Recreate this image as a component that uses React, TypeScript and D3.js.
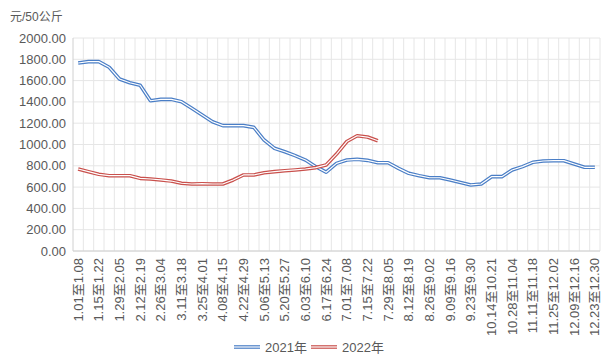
import React from "react";
import * as d3 from "d3";

const categories: string[] = [
  "1.01至1.08", "1.08至1.15", "1.15至1.22", "1.22至1.29", "1.29至2.05", "2.05至2.12",
  "2.12至2.19", "2.19至2.26", "2.26至3.04", "3.04至3.11", "3.11至3.18", "3.18至3.25",
  "3.25至4.01", "4.01至4.08", "4.08至4.15", "4.15至4.22", "4.22至4.29", "4.29至5.06",
  "5.06至5.13", "5.13至5.20", "5.20至5.27", "5.27至6.03", "6.03至6.10", "6.10至6.17",
  "6.17至6.24", "6.24至7.01", "7.01至7.08", "7.08至7.15", "7.15至7.22", "7.22至7.29",
  "7.29至8.05", "8.05至8.12", "8.12至8.19", "8.19至8.26", "8.26至9.02", "9.02至9.09",
  "9.09至9.16", "9.16至9.23", "9.23至9.30", "9.30至10.14", "10.14至10.21", "10.21至10.28",
  "10.28至11.04", "11.04至11.11", "11.11至11.18", "11.18至11.25", "11.25至12.02", "12.02至12.09",
  "12.09至12.16", "12.16至12.23", "12.23至12.30",
];

const series2021: number[] = [
  1765, 1778, 1778, 1725, 1615, 1580, 1556, 1411, 1424, 1424, 1402, 1340, 1278, 1214,
  1177, 1177, 1177, 1161, 1042, 964, 932, 895, 854, 792, 740, 823, 854, 861, 851, 829,
  829, 776, 729, 707, 688, 688, 667, 643, 620, 629, 698, 698, 761, 792, 833, 845, 848,
  848, 817, 786, 786,
];

const series2022: number[] = [
  770, 745, 720, 707, 707, 707, 682, 676, 667, 657, 636, 629, 632, 629, 629, 667, 714,
  714, 735, 745, 754, 761, 770, 783, 808, 910, 1028, 1082, 1070, 1035,
];

const yTicks: number[] = [0, 200, 400, 600, 800, 1000, 1200, 1400, 1600, 1800, 2000];
const seriesNames: string[] = ["2021年", "2022年"];
const seriesColors: string[] = ["#4A7EC6", "#C9504C"];

const FONT = "'Liberation Sans', 'Noto Sans CJK SC', sans-serif";

export default function App() {
  const W = 615, H = 360;
  const left = 73, right = 600, top = 38, bottom = 251;
  const x = d3.scaleBand<number>().domain(categories.map((_, i) => i)).range([left, right]);
  const y = d3.scaleLinear().domain([0, 2000]).range([bottom, top]);
  const cx = (i: number) => (x(i) as number) + x.bandwidth() / 2;
  const line = d3.line<number>().x((_, i) => cx(i)).y((d) => y(d));
  const allSeries = [series2021, series2022];

  return (
    <svg width={W} height={H} style={{ position: "absolute", left: 0, top: 0, background: "#fff" }} fontFamily={FONT}>
      <text x={10} y={21} fontSize={12} fill="#595959">元/50公斤</text>
      {/* horizontal grid */}
      {yTicks.map((t) => (
        <line key={"h" + t} x1={left} x2={right} y1={y(t)} y2={y(t)} stroke="#e6e6e6" strokeWidth={1} />
      ))}
      {/* vertical grid */}
      {categories.map((_, i) => (
        <line key={"v" + i} x1={(x(i) as number) + x.bandwidth()} x2={(x(i) as number) + x.bandwidth()} y1={top} y2={bottom} stroke="#e6e6e6" strokeWidth={1} />
      ))}
      <line x1={left} x2={left} y1={top} y2={bottom} stroke="#d0d0d0" />
      <line x1={left} x2={right} y1={bottom} y2={bottom} stroke="#d0d0d0" />
      {yTicks.map((t) => (
        <text key={"yt" + t} x={66} y={y(t) + 4.5} fontSize={13} fill="#595959" textAnchor="end">
          {t.toFixed(2)}
        </text>
      ))}
      {categories.map((c, i) =>
        i % 2 === 0 ? (
          <text key={"xt" + i} transform={`translate(${cx(i) + 4.5},${bottom + 7}) rotate(-90)`} fontSize={13} fill="#595959" textAnchor="end">
            {c}
          </text>
        ) : null
      )}
      {allSeries.map((s, k) => (
        <g key={"s" + k}>
          <path d={line(s) || ""} fill="none" stroke={seriesColors[k]} strokeWidth={3.6} strokeLinejoin="round" />
          <path d={line(s) || ""} fill="none" stroke="#ffffff" strokeWidth={1.2} strokeLinejoin="round" />
        </g>
      ))}
      {seriesNames.map((n, k) => {
        const lx = k === 0 ? 234 : 311;
        return (
          <g key={"lg" + k}>
            <line x1={lx} x2={lx + 26} y1={347} y2={347} stroke={seriesColors[k]} strokeWidth={3.6} />
            <line x1={lx} x2={lx + 26} y1={347} y2={347} stroke="#fff" strokeWidth={1.2} />
            <text x={lx + 31} y={352} fontSize={13} fill="#595959">{n}</text>
          </g>
        );
      })}
    </svg>
  );
}
